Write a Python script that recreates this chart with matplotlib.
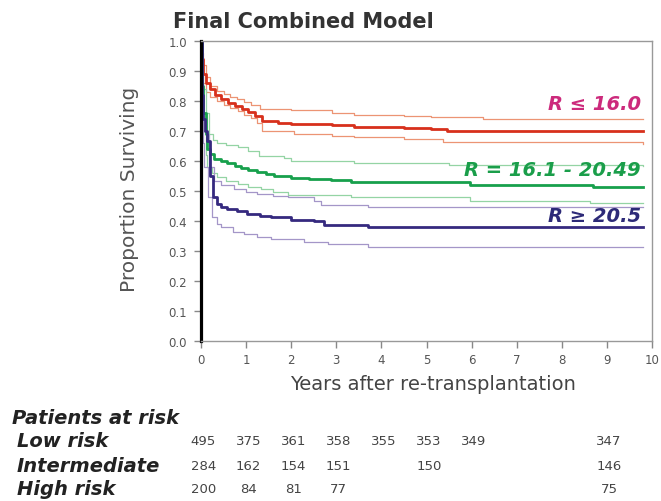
import numpy as np
import matplotlib
matplotlib.use('Agg')
import matplotlib.pyplot as plt
import matplotlib.transforms as mtransforms

# ---- survival curves (step) ----
red_t = [0, 0.02, 0.05, 0.1, 0.2, 0.3, 0.45, 0.6, 0.75, 0.9, 1.05, 1.2, 1.35, 1.7, 2.0, 2.5, 2.9, 3.4, 4.5, 5.1, 5.45, 9.81]
red_v = [1.0, 0.94, 0.89, 0.86, 0.84, 0.82, 0.805, 0.795, 0.785, 0.773, 0.762, 0.751, 0.735, 0.728, 0.725, 0.722, 0.720, 0.714, 0.710, 0.707, 0.701, 0.701]
red_up_t = [0, 0.02, 0.05, 0.1, 0.2, 0.35, 0.5, 0.65, 0.8, 0.95, 1.1, 1.3, 2.0, 2.9, 3.4, 4.5, 5.1, 6.25, 9.81]
red_up_v = [1.0, 0.96, 0.92, 0.88, 0.85, 0.835, 0.825, 0.815, 0.806, 0.798, 0.788, 0.775, 0.770, 0.761, 0.754, 0.750, 0.748, 0.740, 0.740]
red_lo_t = [0, 0.02, 0.05, 0.1, 0.2, 0.36, 0.5, 0.65, 0.81, 0.95, 1.1, 1.25, 1.35, 2.07, 2.9, 3.4, 4.5, 5.37, 9.81]
red_lo_v = [1.0, 0.92, 0.86, 0.83, 0.815, 0.80, 0.787, 0.778, 0.768, 0.755, 0.742, 0.728, 0.700, 0.690, 0.684, 0.679, 0.673, 0.662, 0.658]

grn_t = [0, 0.02, 0.05, 0.1, 0.14, 0.2, 0.29, 0.45, 0.58, 0.75, 0.88, 1.05, 1.25, 1.45, 1.62, 1.99, 2.4, 2.88, 3.33, 5.96, 8.69, 9.81]
grn_v = [1.0, 0.85, 0.76, 0.69, 0.64, 0.625, 0.607, 0.60, 0.595, 0.585, 0.578, 0.570, 0.562, 0.556, 0.551, 0.543, 0.540, 0.537, 0.529, 0.521, 0.514, 0.514]
grn_up_t = [0, 0.02, 0.05, 0.1, 0.18, 0.27, 0.36, 0.55, 0.81, 1.05, 1.29, 1.84, 1.99, 3.4, 5.5, 9.81]
grn_up_v = [1.0, 0.92, 0.84, 0.76, 0.69, 0.67, 0.66, 0.652, 0.646, 0.632, 0.618, 0.610, 0.599, 0.592, 0.588, 0.585]
grn_lo_t = [0, 0.02, 0.05, 0.1, 0.14, 0.25, 0.36, 0.55, 0.81, 1.05, 1.33, 1.6, 1.92, 3.33, 5.96, 8.62, 9.81]
grn_lo_v = [1.0, 0.80, 0.70, 0.62, 0.579, 0.56, 0.546, 0.533, 0.523, 0.515, 0.507, 0.498, 0.488, 0.479, 0.468, 0.459, 0.459]

blu_t = [0, 0.02, 0.05, 0.08, 0.13, 0.2, 0.27, 0.36, 0.45, 0.58, 0.8, 1.03, 1.3, 1.55, 1.99, 2.51, 2.73, 3.7, 9.81]
blu_v = [1.0, 0.82, 0.74, 0.70, 0.668, 0.55, 0.479, 0.457, 0.448, 0.44, 0.432, 0.423, 0.418, 0.412, 0.403, 0.399, 0.388, 0.379, 0.379]
blu_up_t = [0, 0.02, 0.05, 0.1, 0.18, 0.29, 0.45, 0.73, 1.0, 1.25, 1.6, 1.92, 2.51, 2.66, 3.7, 9.81]
blu_up_v = [1.0, 0.86, 0.76, 0.69, 0.579, 0.534, 0.52, 0.507, 0.498, 0.49, 0.485, 0.479, 0.468, 0.454, 0.448, 0.448]
blu_lo_t = [0, 0.02, 0.05, 0.07, 0.15, 0.25, 0.35, 0.44, 0.7, 0.96, 1.25, 1.55, 2.29, 2.81, 3.7, 9.81]
blu_lo_v = [1.0, 0.78, 0.66, 0.579, 0.48, 0.412, 0.39, 0.379, 0.365, 0.357, 0.348, 0.34, 0.329, 0.322, 0.314, 0.314]

# ---- risk table ----
risk_rows = ['Low risk', 'Intermediate', 'High risk']
low_years = [0, 1, 2, 3, 4, 5, 6, 9]
low_n = [495, 375, 361, 358, 355, 353, 349, 347]
int_years = [0, 1, 2, 3, 5, 9]
int_n = [284, 162, 154, 151, 150, 146]
high_years = [0, 1, 2, 3, 9]
high_n = [200, 84, 81, 77, 75]

group_labels = ['R \u2264 16.0', 'R = 16.1 - 20.49', 'R \u2265 20.5']

c_red, c_red_ci = '#d7301c', '#ec9474'
c_grn, c_grn_ci = '#17a04c', '#94d4a4'
c_blu, c_blu_ci = '#35297f', '#a496c8'
label_cols = ['#cc2a7c', '#1a9e4a', '#2d2a78']

W, H = 661, 502
fig = plt.figure(figsize=(W / 100, H / 100), dpi=100)
ax = fig.add_axes([201 / W, 1 - 342 / H, 451 / W, 300 / H])

for t, v, c, lw in [(red_up_t, red_up_v, c_red_ci, 0.9), (red_lo_t, red_lo_v, c_red_ci, 0.9),
                    (grn_up_t, grn_up_v, c_grn_ci, 0.9), (grn_lo_t, grn_lo_v, c_grn_ci, 0.9),
                    (blu_up_t, blu_up_v, c_blu_ci, 0.9), (blu_lo_t, blu_lo_v, c_blu_ci, 0.9),
                    (red_t, red_v, c_red, 2.0), (grn_t, grn_v, c_grn, 2.0), (blu_t, blu_v, c_blu, 2.0)]:
    ax.step(t, v, where='post', color=c, lw=lw)

ax.set_xlim(0, 10)
ax.set_ylim(0, 1.0)
ax.set_xticks(range(0, 11))
ax.set_yticks(np.arange(0, 1.01, 0.1))
ax.set_yticklabels(['%.1f' % y for y in np.arange(0, 1.01, 0.1)])
ax.tick_params(direction='out', length=5, width=1, color='#888888', labelcolor='#555555',
               labelsize=8.5)
ax.tick_params(axis='y', pad=5)
ax.tick_params(axis='x', pad=4)
for s in ['top', 'right', 'bottom']:
    ax.spines[s].set_color('#999999')
    ax.spines[s].set_linewidth(1.0)
ax.spines['left'].set_color('black')
ax.spines['left'].set_linewidth(2.3)

ax.set_ylabel('Proportion Surviving', fontsize=14.5, color='#555555')
ax.yaxis.set_label_coords(-0.137, 0.51)
ax.set_xlabel('Years after re-transplantation', fontsize=14, color='#444444', va='center')
ax.xaxis.set_label_coords(0.514, -0.143)

# group labels at the right
for lab, col, yv in zip(group_labels, label_cols, [0.793, 0.573, 0.418]):
    ax.text(9.75, yv, lab, color=col, fontsize=14, fontweight='bold', style='italic',
            ha='right', va='center')

fig.text(173 / W, 1 - 22 / H, 'Final Combined Model', fontsize=15, fontweight='bold',
         color='#333333', ha='left', va='center')

# patients at risk
fig.text(12 / W, 1 - 418 / H, 'Patients at risk', fontsize=14, fontweight='bold',
         style='italic', color='#222222', ha='left', va='center')
row_y = [442, 467, 490]
trans = mtransforms.blended_transform_factory(ax.transData, fig.transFigure)
for name, yy, yrs, ns in zip(risk_rows, row_y, [low_years, int_years, high_years],
                             [low_n, int_n, high_n]):
    fig.text(17 / W, 1 - yy / H, name, fontsize=14, fontweight='bold', style='italic',
             color='#222222', ha='left', va='center')
    for x, n in zip(yrs, ns):
        ax.text(x + 0.05, 1 - yy / H, str(n), transform=trans, fontsize=9.5,
                color='#444444', ha='center', va='center', clip_on=False)

fig.savefig('out.png', dpi=100)
